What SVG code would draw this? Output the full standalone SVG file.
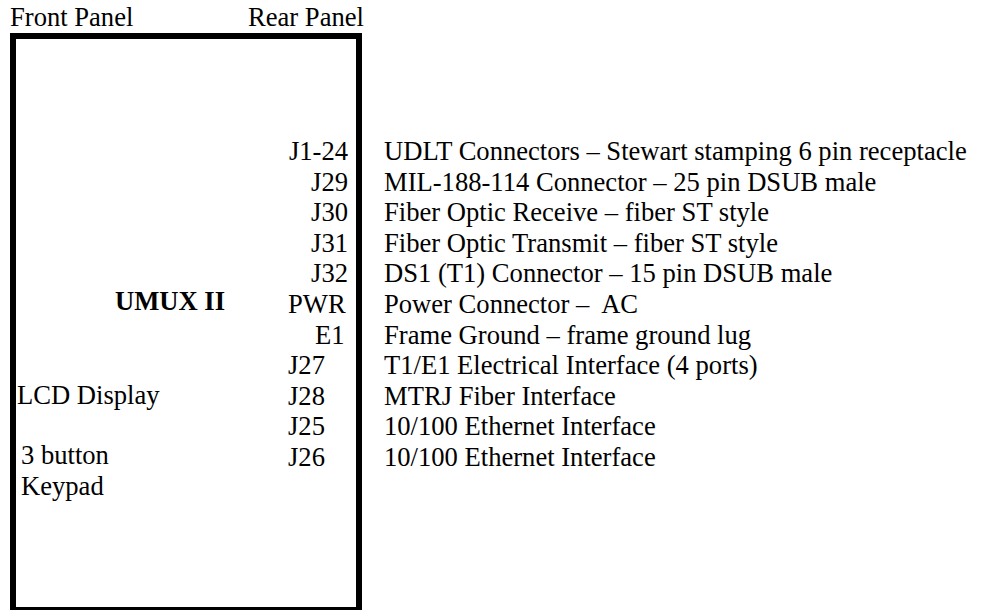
<svg xmlns="http://www.w3.org/2000/svg" width="985" height="610" viewBox="0 0 985 610">
<style>
text{font-family:"Liberation Serif","Times New Roman",serif;font-size:26.6px;fill:#000}
.b{font-weight:bold}
.r{text-anchor:end}
.box{fill:#fff;stroke:#000;stroke-width:6}
</style>
<rect width="985" height="610" fill="#fff"/>
<g id="headers">
<text x="10" y="26">Front Panel</text>
<text x="248" y="26">Rear Panel</text>
</g>
<g id="umux">
<rect class="box" x="13" y="36" width="346" height="574"/>
<text class="b" x="115" y="310">UMUX II</text>
<text x="17" y="404">LCD Display</text>
<text x="21" y="464">3 button</text>
<text x="21" y="495">Keypad</text>
</g>
<g id="connectors">
<g id="j1-24"><text class="r" x="348" y="160">J1-24</text><text x="384" y="160">UDLT Connectors – Stewart stamping 6 pin receptacle</text></g>
<g id="j29"><text class="r" x="348" y="190.6">J29</text><text x="384" y="190.6">MIL-188-114 Connector – 25 pin DSUB male</text></g>
<g id="j30"><text class="r" x="348" y="221.2">J30</text><text x="384" y="221.2">Fiber Optic Receive – fiber ST style</text></g>
<g id="j31"><text class="r" x="348" y="251.8">J31</text><text x="384" y="251.8">Fiber Optic Transmit – fiber ST style</text></g>
<g id="j32"><text class="r" x="348" y="282.4">J32</text><text x="384" y="282.4">DS1 (T1) Connector – 15 pin DSUB male</text></g>
<g id="pwr"><text x="288" y="313">PWR</text><text x="384" y="313" xml:space="preserve">Power Connector –  AC</text></g>
<g id="e1"><text x="315" y="343.6">E1</text><text x="384" y="343.6">Frame Ground – frame ground lug</text></g>
<g id="j27"><text x="288" y="374.2">J27</text><text x="384" y="374.2">T1/E1 Electrical Interface (4 ports)</text></g>
<g id="j28"><text x="288" y="404.8">J28</text><text x="384" y="404.8">MTRJ Fiber Interface</text></g>
<g id="j25"><text x="288" y="435.4">J25</text><text x="384" y="435.4">10/100 Ethernet Interface</text></g>
<g id="j26"><text x="288" y="466">J26</text><text x="384" y="466">10/100 Ethernet Interface</text></g>
</g>
</svg>
